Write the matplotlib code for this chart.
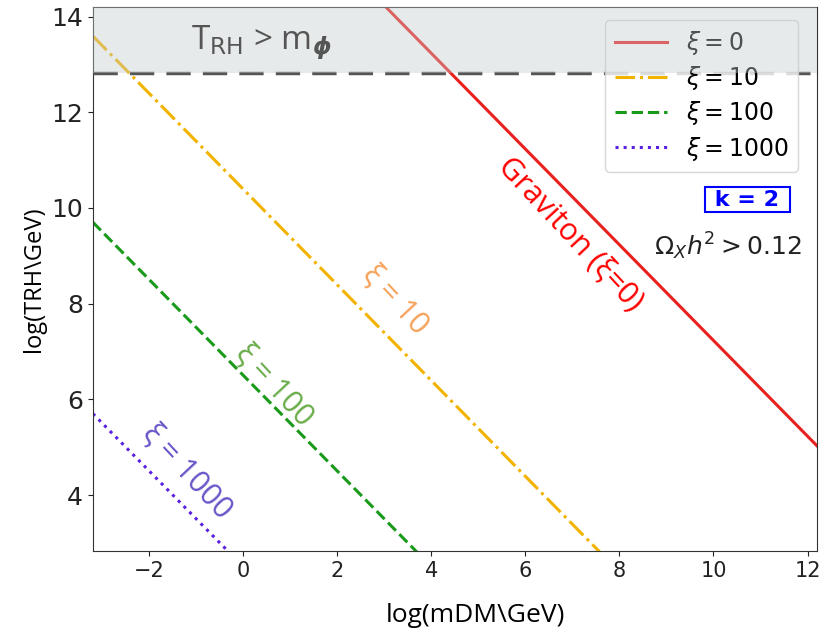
import numpy as np
import matplotlib
matplotlib.use('Agg')
import matplotlib.pyplot as plt

# ------------------------------
#   Data
# ------------------------------
xi_values = [0, 10, 100, 1000]
intercepts = [17.23, 10.39, 6.50, 2.50]   # log(TRH) = b - log(mDM)
line_colors = ['#e8201e', '#f2b300', '#1a9a1a', '#5b1fe0']
line_styles = ['-', '-.', '--', ':']
label_colors = ['#ff0000', '#f5a25a', '#6aac4a', '#6a55c8']
label_text = ['Graviton (ξ=0)', 'ξ = 10', 'ξ = 100', 'ξ = 1000']
label_pos = [(6.95, 9.45), (3.22, 8.08), (0.66, 6.30), (-1.2, 4.5)]

trh_limit = 12.83
xlim = (-3.2, 12.2)
ylim = (2.83, 14.2)

# ------------------------------
#   Plot
# ------------------------------
fig = plt.figure(figsize=(8.37, 6.33), dpi=100)
ax = fig.add_axes([0.111, 0.1295, 0.865, 0.8595])

x = np.linspace(xlim[0], xlim[1], 200)
for xi, b, c, ls in zip(xi_values, intercepts, line_colors, line_styles):
    ax.plot(x, b - x, color=c, ls=ls, lw=2.2, label=r'$\xi = %d$' % xi)

for txt, (tx, ty), c in zip(label_text, label_pos, label_colors):
    ax.text(tx, ty, txt, color=c, fontsize=22, rotation=-47,
            ha='center', va='center', rotation_mode='anchor',
            family='Open Sans')

ax.axhline(trh_limit, color='#555555', ls='--', lw=2.5, dashes=(7, 3.5), zorder=4)

leg = ax.legend(loc='upper right', fontsize=17, framealpha=0.8,
                bbox_to_anchor=(0.99, 0.998), handlelength=2.2,
                labelspacing=0.3)

# shaded region drawn over everything, like the original overlay
ax.axhspan(trh_limit, ylim[1], color='#c5cccc', alpha=0.4, zorder=10, lw=0)
ax.text(0.38, 13.45, r'T$_{\mathrm{RH}}$ > m$_{\boldsymbol{\phi}}$', color='#555555',
        fontsize=24, ha='center', va='center', zorder=11, family='Open Sans')

ax.text(10.72, 10.17, ' k = 2 ', color='#0000ff', fontsize=16, weight='bold',
        ha='center', va='center', zorder=12,
        bbox=dict(boxstyle='square,pad=0.12', fc='white', ec='#0000ff', lw=1.5))
ax.text(10.3, 9.2, r'$\Omega_X h^2 > 0.12$', color='#222222', fontsize=18,
        ha='center', va='center')

ax.set_xlim(*xlim)
ax.set_ylim(*ylim)
ax.set_xticks([-2, 0, 2, 4, 6, 8, 10, 12])
ax.set_yticks([4, 6, 8, 10, 12, 14])
ax.tick_params(colors='#222222')
ax.tick_params(axis='x', labelsize=15)
ax.tick_params(axis='y', labelsize=18)
for s in ax.spines.values():
    s.set_color('#333333')
ax.set_xlabel(r'log(mDM\GeV)', fontsize=19, family='Open Sans')
ax.xaxis.set_label_coords(0.528, -0.095)
ax.set_ylabel(r'log(TRH\GeV)', fontsize=17, family='Open Sans')

plt.savefig('out.png', dpi=100)
